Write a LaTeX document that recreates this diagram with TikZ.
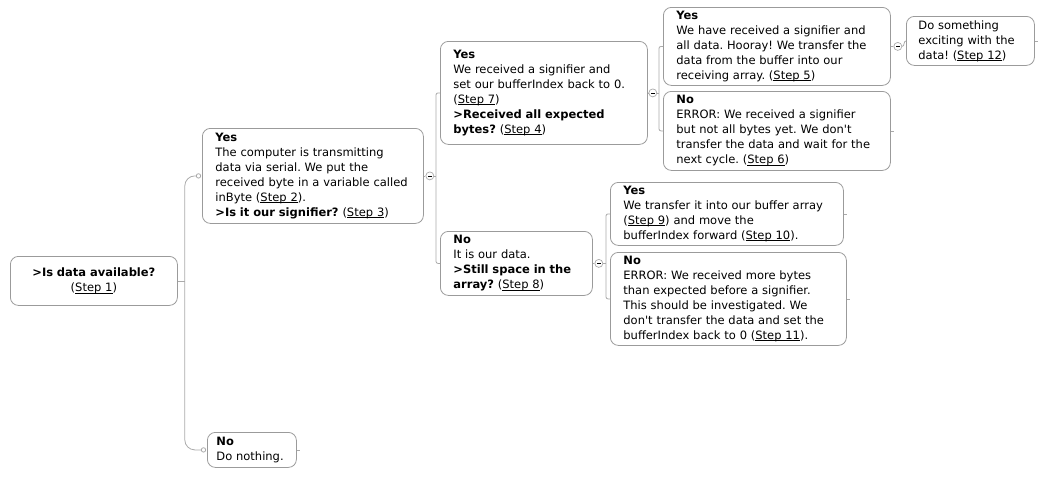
\documentclass[tikz,border=0pt]{standalone}
\usepackage{fontspec}
\setmainfont{DejaVu Sans}
\definecolor{boxgray}{RGB}{155,155,155}
\definecolor{linegray}{RGB}{170,170,170}
\newcommand{\stp}[1]{\setbox0\hbox{Step~#1}\rlap{\rule[-1.6pt]{\wd0}{0.55pt}}\box0}
\hyphenpenalty=10000
\frenchspacing

\begin{document}
\begin{tikzpicture}[x=1pt, y=-1pt,
    box/.style={draw=boxgray, line width=0.8pt, rounded corners=8pt, anchor=north west,
        align=left, inner xsep=13pt, inner ysep=0pt, font=\fontsize{11.5}{15}\selectfont},
    link/.style={draw=linegray, line width=0.8pt},
    knob/.style={circle, draw=linegray, line width=0.7pt, fill=white, inner sep=0pt, minimum size=8pt}]

        \useasboundingbox (0,0) rectangle (1043,479);

        % questions and answers
        \node[box, align=center, text width=141pt, minimum height=49pt] (root) at (10,256)
            {\textbf{>Is data available?}\\(\stp{1})}; % Step 1
        \node[box, text width=195pt, minimum height=95pt] (yes1) at (202,128)
            {\textbf{Yes}\\The computer is transmitting\\data via serial. We put the\\received byte in a variable called\\inByte (\stp{2}).\\\textbf{>Is it our signifier?} (\stp{3})}; % Step 2, 3
        \node[box, inner xsep=9pt, text width=71pt, minimum height=35pt] (no1) at (207,432)
            {\textbf{No}\\Do nothing.};
        \node[box, text width=181pt, minimum height=103pt] (yes2) at (440,41)
            {\textbf{Yes}\\We received a signifier and\\set our bufferIndex back to 0.\\(\stp{7})\\\textbf{>Received all expected}\\\textbf{bytes?} (\stp{4})}; % Step 7, 4
        \node[box, text width=126pt, minimum height=64pt] (no2) at (440,231)
            {\textbf{No}\\It is our data.\\\textbf{>Still space in the}\\\textbf{array?} (\stp{8})}; % Step 8
        \node[box, text width=201pt, minimum height=78pt] (yes3) at (663,7)
            {\textbf{Yes}\\We have received a signifier and\\all data. Hooray! We transfer the\\data from the buffer into our\\receiving array. (\stp{5})}; % Step 5
        \node[box, text width=201pt, minimum height=79pt] (no3) at (663,91)
            {\textbf{No}\\ERROR: We received a signifier\\but not all bytes yet. We don\textquotesingle t\\transfer the data and wait for the\\next cycle. (\stp{6})}; % Step 6
        \node[box, inner xsep=12pt, text width=104pt, minimum height=49pt] (dosth) at (906,16)
            {Do something\\exciting with the\\data! (\stp{12})}; % Step 12
        \node[box, text width=207pt, minimum height=63pt] (yes4) at (610,182)
            {\textbf{Yes}\\We transfer it into our buffer array\\(\stp{9}) and move the\\bufferIndex forward (\stp{10}).}; % Step 9, 10
        \node[box, text width=210pt, minimum height=93pt] (no4) at (610,252)
            {\textbf{No}\\ERROR: We received more bytes\\than expected before a signifier.\\This should be investigated. We\\don\textquotesingle t transfer the data and set the\\bufferIndex back to 0 (\stp{11}).}; % Step 11

        % collapse knobs
        \node[knob] (k1) at ([xshift=6pt]yes1.east) {\rule{3.5pt}{0.7pt}};
        \node[knob] (k2) at ([xshift=5pt]yes2.east) {\rule{3.5pt}{0.7pt}};
        \node[knob] (k3) at ([xshift=7pt]yes3.east) {\rule{3.5pt}{0.7pt}};
        \node[knob] (k4) at ([xshift=6pt]no2.east) {\rule{3.5pt}{0.7pt}};

        % root to yes / no
        \draw[link] (root.east) -- ++(7pt,0) coordinate (rb);
        \draw[link, rounded corners=10pt] ([xshift=-3.5pt]yes1.west) -- (rb |- yes1.west)
            -- (rb |- no1.west) -- ([xshift=-3.5pt]no1.west);
        \draw[link, fill=white] ([xshift=-3.5pt]yes1.west) circle (2.2pt);
        \draw[link, fill=white] ([xshift=-3.5pt]no1.west) circle (2.2pt);

        % brackets behind the knobs
        \draw[link] (yes1.east) -- (k1.west);
        \draw[link] (k1.east) -- ([xshift=-4pt]yes2.west |- k1.east);
        \draw[link, rounded corners=2pt] (yes2.west) -- ++(-4pt,0) |- (no2.west);
        \draw[link] (yes2.east) -- (k2.west);
        \draw[link] (k2.east) -- ([xshift=-4pt]yes3.west |- k2.east);
        \draw[link, rounded corners=2pt] (yes3.west) -- ++(-4pt,0) |- (no3.west);
        \draw[link] (no2.east) -- (k4.west);
        \draw[link] (k4.east) -- ([xshift=-4pt]yes4.west |- k4.east);
        \draw[link, rounded corners=2pt] (yes4.west) -- ++(-4pt,0) |- (no4.west);
        \draw[link] (yes3.east) -- (k3.west);
        \draw[link] (k3.east) to[out=0, in=180] (dosth.west);

        % short tails
        \draw[link] (no1.east) -- ++(3pt,0);
        \draw[link] (no3.east) -- ++(3pt,0);
        \draw[link] (yes4.east) -- ++(3pt,0);
        \draw[link] (no4.east) -- ++(3pt,0);
        \draw[link] (dosth.east) -- ++(3pt,0);

\end{tikzpicture}
\end{document}
